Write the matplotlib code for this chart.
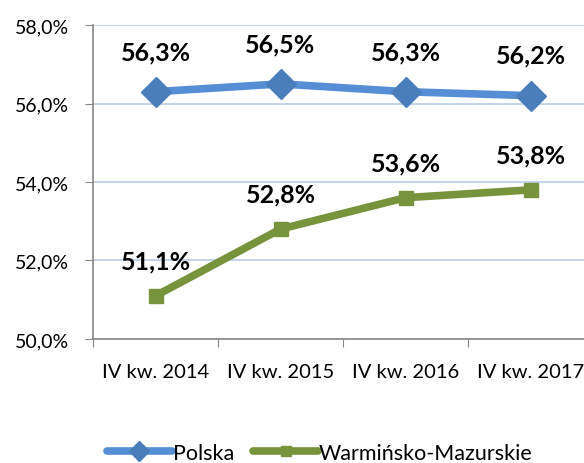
import matplotlib
matplotlib.use('Agg')
import matplotlib.pyplot as plt
from matplotlib.ticker import FuncFormatter

# Chart data
categories = ['IV kw. 2014', 'IV kw. 2015', 'IV kw. 2016', 'IV kw. 2017']
polska = [56.3, 56.5, 56.3, 56.2]
warminsko = [51.1, 52.8, 53.6, 53.8]

plt.rcParams['font.family'] = ['Lato', 'DejaVu Sans']

fig = plt.figure(figsize=(5.84, 4.64), dpi=100)
ax = fig.add_axes([93 / 584, 124 / 464, 500 / 584, 314 / 464])

x = [i + 0.5 for i in range(len(categories))]

ax.plot(x, polska, '-', color='#558ED5', linewidth=5.5, marker='D',
        markersize=15, markerfacecolor='#4A7EBB', markeredgecolor='#4A7EBB',
        label='Polska', zorder=3, solid_capstyle='round')
ax.plot(x, warminsko, '-', color='#77933C', linewidth=5.5, marker='s',
        markersize=10.5, markerfacecolor='#77933C', markeredgecolor='#77933C',
        label='Warmińsko-Mazurskie', zorder=3, solid_capstyle='round')

def pl_fmt(v):
    return f'{v:.1f}%'.replace('.', ',')

for xi, v in zip(x, polska):
    ax.annotate(pl_fmt(v), (xi, v), xytext=(0, 29), textcoords='offset points',
                ha='center', va='center', fontsize=18, fontweight='bold')
for xi, v in zip(x, warminsko):
    ax.annotate(pl_fmt(v), (xi, v), xytext=(0, 25), textcoords='offset points',
                ha='center', va='center', fontsize=18, fontweight='bold')

ax.set_xlim(0, 4)
ax.set_ylim(50, 58)
ax.set_yticks([50, 52, 54, 56, 58])
ax.yaxis.set_major_formatter(FuncFormatter(lambda v, p: pl_fmt(v)))
ax.set_xticks([0, 1, 2, 3, 4])
ax.set_xticklabels([])
ax.set_xticks(x, minor=True)
ax.set_xticklabels(categories, minor=True)
ax.tick_params(axis='x', which='minor', length=0, pad=17, labelsize=14.5)
ax.tick_params(axis='x', which='major', length=6, color='#868686')
ax.tick_params(axis='y', length=6, color='#868686', labelsize=14, pad=11)

ax.grid(axis='y', color='#B9CDE5', linewidth=1.2)
ax.set_axisbelow(True)
for s in ['top', 'right']:
    ax.spines[s].set_visible(False)
for s in ['left', 'bottom']:
    ax.spines[s].set_color('#868686')
    ax.spines[s].set_linewidth(1.2)

fig.legend(loc='center', bbox_to_anchor=(320 / 584, 1 - 454 / 464), ncol=2,
           frameon=False, fontsize=15.5, handlelength=3.0, handletextpad=0.05,
           columnspacing=0.9, markerscale=0.65)

fig.savefig('out.png', dpi=100)
